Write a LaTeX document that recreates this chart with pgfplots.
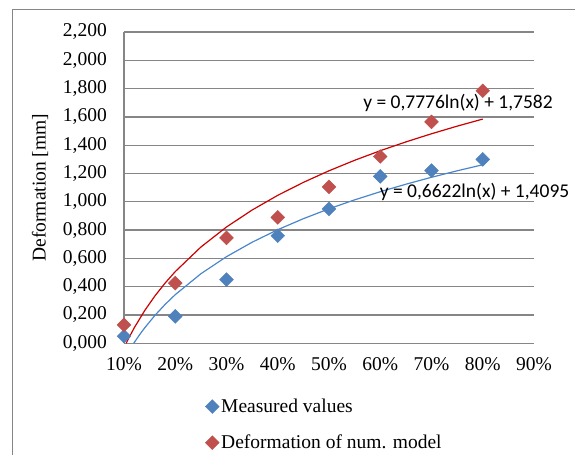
\documentclass[border=0pt]{standalone}
\usepackage{pgfplots}
\pgfplotsset{compat=1.18}
\usepackage{fontspec}
\setmainfont{Liberation Serif}
\newfontfamily\eqfont{Carlito}
\newcommand\chartfont{\fontsize{19.5bp}{23bp}\selectfont}
\definecolor{mblue}{RGB}{79,129,189}
\definecolor{mred}{RGB}{192,80,77}
\definecolor{tblue}{RGB}{74,134,204}
\definecolor{tred}{RGB}{204,0,0}
\definecolor{gridgray}{RGB}{134,134,134}
\begin{document}
\begin{tikzpicture}[font=\chartfont]
\useasboundingbox (0,0) rectangle (575bp,455bp);
\draw[gridgray, line width=1.2bp] (12.5bp,0) -- (12.5bp,445.5bp) -- (575bp,445.5bp);
\begin{axis}[
  at={(124bp,111.7bp)}, anchor=south west,
  scale only axis, width=410bp, height=311.3bp,
  xmin=0.1, xmax=0.9, ymin=0, ymax=2.2,
  enlargelimits=false, clip=false,
  axis lines=left, axis line style={-, gridgray, line width=1.3bp},
  xtick={0.1,0.2,0.3,0.4,0.5,0.6,0.7,0.8,0.9},
  xticklabels={10\%,20\%,30\%,40\%,50\%,60\%,70\%,80\%,90\%},
  ytick={0,0.2,0.4,0.6,0.8,1.0,1.2,1.4,1.6,1.8,2.0,2.2},
  ymajorgrids, grid style={gridgray, line width=1.3bp},
  major tick length=0pt,
  /pgf/number format/.cd, fixed, fixed zerofill, precision=3, use comma, assume math mode=true,
  /pgfplots/.cd,
  tick label style={font=\chartfont},
  yticklabel style={inner sep=0pt, xshift=-17bp},
  xticklabel style={inner sep=0pt, yshift=-14bp},
  ylabel={Deformation [mm]},
  ylabel style={font=\chartfont, at={(axis description cs:-0.205,0.5)}, anchor=center},
  legend cell align=left,
  legend style={draw=none, fill=none, font=\chartfont,
    at={(axis description cs:0.198,-0.172)}, anchor=north west,
    row sep=17bp, inner sep=0pt},
  legend image code/.code={\draw[#1] plot coordinates {(0bp,0bp)};},
]
\addplot[only marks, mark=square*, mark size=4.9bp, mark options={rotate=45, fill=mblue, draw=mblue}]
  coordinates {(0.1,0.05)(0.2,0.19)(0.3,0.45)(0.4,0.76)(0.5,0.95)(0.6,1.18)(0.7,1.22)(0.8,1.30)};
\addlegendentry{Measured values}
\addplot[only marks, mark=square*, mark size=4.9bp, mark options={rotate=45, fill=mred, draw=mred}]
  coordinates {(0.1,0.13)(0.2,0.425)(0.3,0.745)(0.4,0.89)(0.5,1.105)(0.6,1.32)(0.7,1.565)(0.8,1.785)};
\addlegendentry{Deformation of num. model}
\addplot[forget plot, tblue, line width=1.2bp] coordinates {
  (0.119,0)(0.12,0.0054)(0.13,0.0585)(0.14,0.1075)(0.16,0.1960)(0.18,0.2740)(0.2,0.3437)
  (0.25,0.4915)(0.3,0.6122)(0.35,0.7143)(0.4,0.8027)(0.45,0.8807)(0.5,0.9505)
  (0.55,1.0136)(0.6,1.0712)(0.65,1.1242)(0.7,1.1733)(0.75,1.2190)(0.8,1.2618)};
\addplot[forget plot, tred, line width=1.2bp] coordinates {
  (0.1042,0)(0.11,0.0418)(0.12,0.1095)(0.14,0.2293)(0.16,0.3332)(0.18,0.4248)(0.2,0.5067)
  (0.25,0.6802)(0.3,0.8220)(0.35,0.9419)(0.4,1.0457)(0.45,1.1373)(0.5,1.2192)
  (0.55,1.2933)(0.6,1.3610)(0.65,1.4232)(0.7,1.4808)(0.75,1.5345)(0.8,1.5847)};
\node[font={\eqfont\chartfont}, inner sep=0pt] at (axis cs:0.7517,1.698) {y = 0,7776ln(x) + 1,7582};
\node[font={\eqfont\chartfont}, inner sep=0pt] at (axis cs:0.784,1.071) {y = 0,6622ln(x) + 1,4095};
\end{axis}
\end{tikzpicture}
\end{document}
